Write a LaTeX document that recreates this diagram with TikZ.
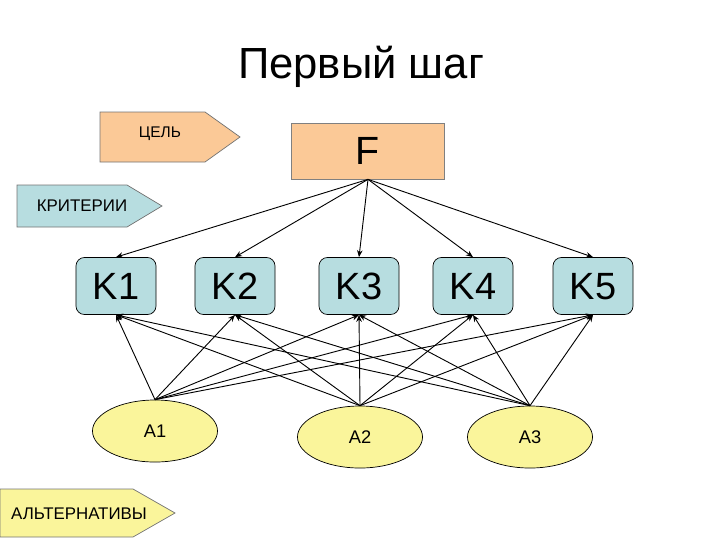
\documentclass[tikz,border=0pt]{standalone}
\usepackage{fontspec}
\setmainfont{Liberation Sans}
\usetikzlibrary{arrows.meta,shapes.geometric}

\definecolor{goalfill}{RGB}{251,201,151}
\definecolor{critfill}{RGB}{183,221,224}
\definecolor{altfill}{RGB}{250,245,155}

\tikzset{
  tagbox/.style={draw=black!55,line width=0.5pt},
  tagtext/.style={font=\fontsize{12}{14}\selectfont,inner sep=0pt},
  critbox/.style={draw,fill=critfill,rounded corners=6pt,line width=0.5pt,
    minimum width=2cm,minimum height=1.425cm,text height=19.3pt,text depth=0pt,
    font=\fontsize{27}{30}\selectfont},
  altnode/.style={ellipse,draw,fill=altfill,line width=0.5pt,
    minimum width=3.125cm,minimum height=1.55cm,font=\fontsize{13}{15}\selectfont},
  link/.style={line width=0.65pt,-{Stealth[length=5pt,width=4pt]}}
}

\begin{document}
\begin{tikzpicture}[x=0.025cm,y=-0.025cm]
\useasboundingbox (0,0) rectangle (720,540);
% title
\node[anchor=base,font=\fontsize{31}{34}\selectfont] (title) at (361,78) {Первый шаг};
% side tags
\draw[tagbox,fill=goalfill] (100,112) -- (205,112) -- (240,137) -- (205,162) -- (100,162) -- cycle;
\node[tagtext,font=\fontsize{11}{13}\selectfont] (goal) at (160,134) {ЦЕЛЬ};
\draw[tagbox,fill=critfill] (17,185) -- (127,185) -- (162,206) -- (127,227) -- (17,227) -- cycle;
\node[tagtext] (crit) at (82,206) {КРИТЕРИИ};
\draw[tagbox,fill=altfill] (0,489) -- (133,489) -- (175,513) -- (133,537) -- (0,537) -- cycle;
\node[tagtext] (alt) at (79,514) {АЛЬТЕРНАТИВЫ};
% goal
\node[draw=black!50,fill=goalfill,line width=0.5pt,minimum width=3.825cm,minimum height=1.4cm,
  font=\fontsize{28}{30}\selectfont] (F) at (368,151) {F};
% criteria
\node[critbox] (K1) at (116,286) {K1};
\node[critbox] (K2) at (235,286) {K2};
\node[critbox] (K3) at (359,286) {K3};
\node[critbox] (K4) at (473,286) {K4};
\node[critbox] (K5) at (593,286) {K5};
% alternatives
\node[altnode] (A1) at (155,431) {A1};
\node[altnode] (A2) at (360,437) {A2};
\node[altnode] (A3) at (530,437) {A3};
% links
\foreach \k in {1,...,5} {
  \draw[link] (F.south) -- (K\k.north);
  \foreach \a in {1,2,3}
    \draw[link] (A\a.north) -- (K\k.south);
}
\end{tikzpicture}
\end{document}
